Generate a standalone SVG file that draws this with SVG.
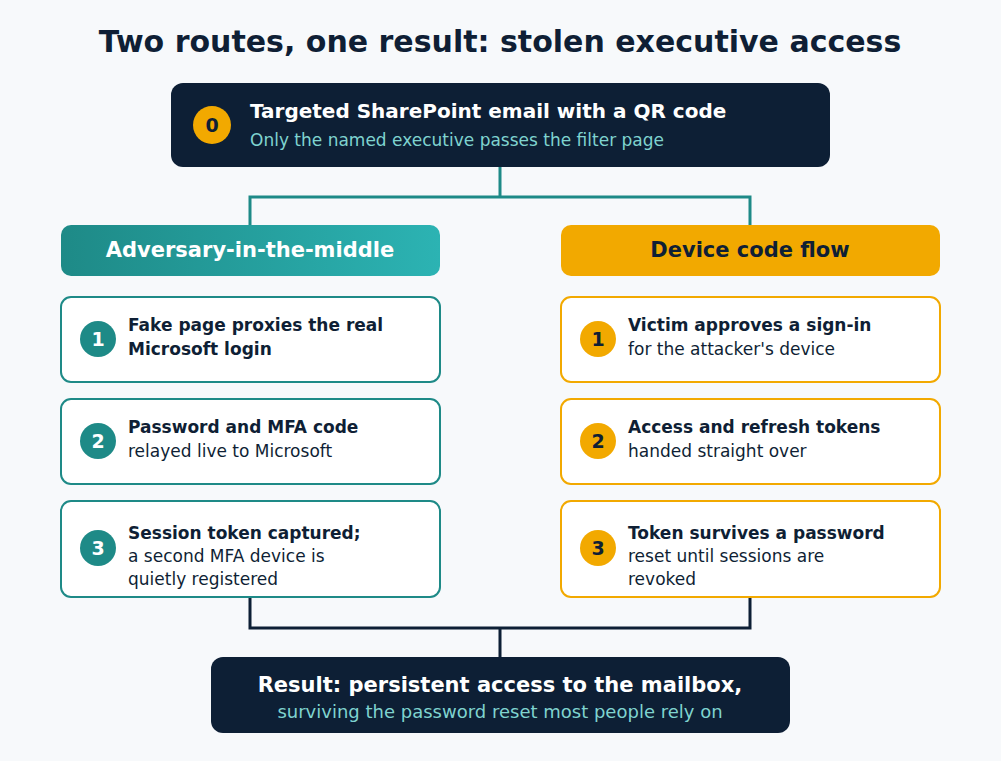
<svg xmlns="http://www.w3.org/2000/svg" width="1001" height="761" viewBox="0 0 1001 761">
<defs>
<linearGradient id="tealGrad" x1="0" y1="0" x2="1" y2="0">
<stop offset="0" stop-color="#1e8a87"/>
<stop offset="1" stop-color="#2cb3b3"/>
</linearGradient>
<style>
text{font-family:"DejaVu Sans","Liberation Sans",sans-serif;}
.title{font-size:30px;font-weight:bold;fill:#0f1f35;}
.dark{fill:#0d1f35;}
.h{font-size:20px;font-weight:bold;fill:#ffffff;}
.sub{font-size:17px;fill:#7fd3cf;}
.hdr{font-size:21px;font-weight:bold;}
.card-t{fill:#ffffff;stroke:#1e8a87;stroke-width:2;}
.card-a{fill:#ffffff;stroke:#f2a900;stroke-width:2;}
.b{font-size:17px;font-weight:bold;fill:#0f1f35;}
.n{font-size:17px;fill:#0f1f35;}
.num{font-size:19px;font-weight:bold;text-anchor:middle;}
.conn-t{fill:none;stroke:#1e8a87;stroke-width:3;}
.conn-d{fill:none;stroke:#0d1f35;stroke-width:3;}
</style>
</defs>
<rect width="1001" height="761" fill="#f7f9fb"/>
<text class="title" x="500" y="52" text-anchor="middle">Two routes, one result: stolen executive access</text>

<g id="connectors">
<path class="conn-t" d="M500 167 V197 H250 V225 M500 197 H750 V225"/>
<path class="conn-d" d="M250 597 V628 H750 V597 M500 628 V657"/>
</g>

<g id="start">
<rect class="dark" x="171" y="83" width="659" height="84" rx="12"/>
<circle cx="212" cy="125" r="19" fill="#f2a900"/>
<text class="num" x="212" y="132" fill="#0f1f35">0</text>
<text class="h" x="250" y="118">Targeted SharePoint email with a QR code</text>
<text class="sub" x="250" y="146">Only the named executive passes the filter page</text>
</g>

<g id="aitm-header">
<rect x="61" y="225" width="379" height="51" rx="10" fill="url(#tealGrad)"/>
<text class="hdr" x="250" y="257" text-anchor="middle" fill="#ffffff">Adversary-in-the-middle</text>
</g>
<g id="device-header">
<rect x="561" y="225" width="379" height="51" rx="10" fill="#f2a900"/>
<text class="hdr" x="750" y="257" text-anchor="middle" fill="#0f1f35">Device code flow</text>
</g>

<g id="aitm-1">
<rect class="card-t" x="61" y="297" width="379" height="85" rx="10"/>
<circle cx="98" cy="339" r="18" fill="#1e8a87"/>
<text class="num" x="98" y="346" fill="#ffffff">1</text>
<text class="b" x="128" y="331">Fake page proxies the real</text>
<text class="b" x="128" y="355">Microsoft login</text>
</g>
<g id="aitm-2">
<rect class="card-t" x="61" y="399" width="379" height="85" rx="10"/>
<circle cx="98" cy="441" r="18" fill="#1e8a87"/>
<text class="num" x="98" y="448" fill="#ffffff">2</text>
<text class="b" x="128" y="433">Password and MFA code</text>
<text class="n" x="128" y="457">relayed live to Microsoft</text>
</g>
<g id="aitm-3">
<rect class="card-t" x="61" y="501" width="379" height="96" rx="10"/>
<circle cx="98" cy="548" r="18" fill="#1e8a87"/>
<text class="num" x="98" y="555" fill="#ffffff">3</text>
<text class="b" x="128" y="539">Session token captured;</text>
<text class="n" x="128" y="562">a second MFA device is</text>
<text class="n" x="128" y="585">quietly registered</text>
</g>

<g id="device-1">
<rect class="card-a" x="561" y="297" width="379" height="85" rx="10"/>
<circle cx="598" cy="339" r="18" fill="#f2a900"/>
<text class="num" x="598" y="346" fill="#0f1f35">1</text>
<text class="b" x="628" y="331">Victim approves a sign-in</text>
<text class="n" x="628" y="355">for the attacker's device</text>
</g>
<g id="device-2">
<rect class="card-a" x="561" y="399" width="379" height="85" rx="10"/>
<circle cx="598" cy="441" r="18" fill="#f2a900"/>
<text class="num" x="598" y="448" fill="#0f1f35">2</text>
<text class="b" x="628" y="433">Access and refresh tokens</text>
<text class="n" x="628" y="457">handed straight over</text>
</g>
<g id="device-3">
<rect class="card-a" x="561" y="501" width="379" height="96" rx="10"/>
<circle cx="598" cy="548" r="18" fill="#f2a900"/>
<text class="num" x="598" y="555" fill="#0f1f35">3</text>
<text class="b" x="628" y="539">Token survives a password</text>
<text class="n" x="628" y="562">reset until sessions are</text>
<text class="n" x="628" y="585">revoked</text>
</g>

<g id="result">
<rect class="dark" x="211" y="657" width="579" height="76" rx="12"/>
<text x="500" y="692" text-anchor="middle" font-size="21" font-weight="bold" fill="#ffffff">Result: persistent access to the mailbox,</text>
<text class="sub" x="500" y="718" text-anchor="middle" style="font-size:18px">surviving the password reset most people rely on</text>
</g>
</svg>
